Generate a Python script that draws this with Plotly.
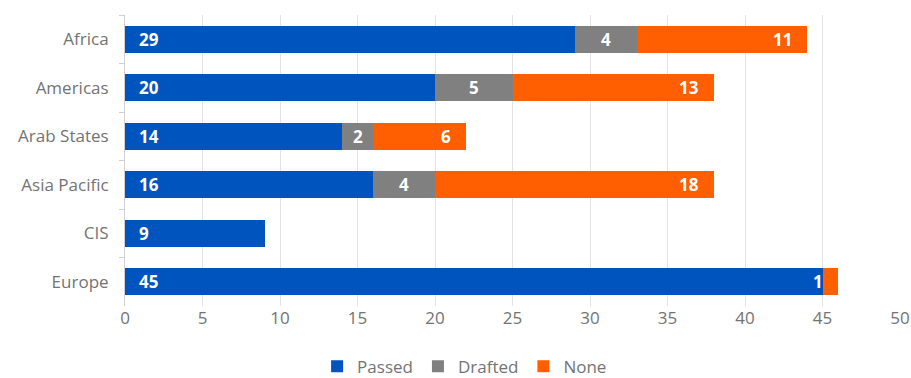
import plotly.graph_objects as go

regions = ["Africa", "Americas", "Arab States", "Asia Pacific", "CIS", "Europe"]
passed = [29, 20, 14, 16, 9, 45]
drafted = [4, 5, 2, 4, 0, 0]
none_ = [11, 13, 6, 18, 0, 1]
series_names = ["Passed", "Drafted", "None"]
x_ticks = [0, 5, 10, 15, 20, 25, 30, 35, 40, 45, 50]

colors = ["#0054BE", "#808080", "#FF5F00"]
FONT = "Open Sans"

fig = go.Figure()
for name, vals, col in zip(series_names, [passed, drafted, none_], colors):
    fig.add_trace(go.Bar(
        y=regions, x=vals, name=name, orientation="h",
        marker=dict(color=col, line=dict(width=0)),
        hoverinfo="x+name",
    ))

annotations = []
for i, r in enumerate(regions):
    p, d, n = passed[i], drafted[i], none_[i]
    lab_font = dict(family=FONT, size=17, color="white", weight="bold")
    if p:
        annotations.append(dict(x=0, y=r, text=str(p), xanchor="left", xshift=12,
                                showarrow=False, font=lab_font))
    if d:
        annotations.append(dict(x=p + d / 2, y=r, text=str(d), xanchor="center",
                                showarrow=False, font=lab_font))
    if n:
        annotations.append(dict(x=p + d + n, y=r, text=str(n), xanchor="right", xshift=-13,
                                showarrow=False, font=lab_font))

fig.update_layout(
    barmode="stack",
    width=911, height=378,
    margin=dict(l=125, r=11, t=15, b=72),
    paper_bgcolor="white", plot_bgcolor="white",
    bargap=0.44,
    font=dict(family=FONT, size=17, color="#737373"),
    annotations=annotations,
    legend=dict(orientation="h", xref="container", x=0.51, xanchor="center",
                yref="container", y=0.03, yanchor="middle",
                font=dict(size=17, color="#737373"), traceorder="normal",
                itemwidth=30, itemsizing="constant"),
    xaxis=dict(range=[0, 50], tickvals=x_ticks, showgrid=True, gridcolor="#E3E3E3",
               gridwidth=1, zeroline=False, showline=False, ticks="",
               automargin=False, tickfont=dict(size=17, color="#737373")),
    yaxis=dict(autorange="reversed", showline=True, linecolor="#D0D0D0", linewidth=1,
               ticks="outside", tickson="boundaries", ticklen=5, tickcolor="#D0D0D0",
               automargin=False, ticklabelstandoff=12,
               tickfont=dict(size=17, color="#737373")),
)

fig.write_html("out.html",
               config={"displayModeBar": False},
               post_script="document.body.style.margin='0';document.body.style.overflow='hidden';")
